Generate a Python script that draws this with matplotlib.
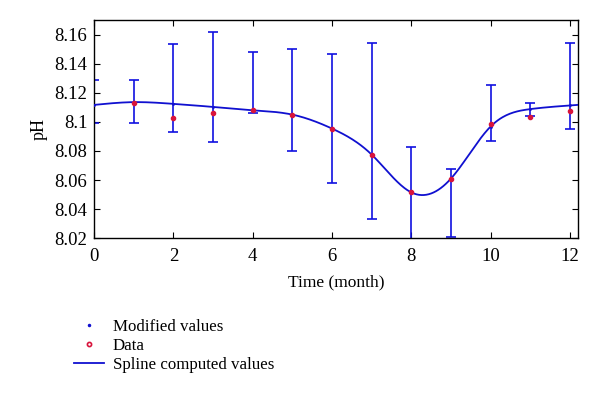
import numpy as np
import matplotlib
matplotlib.use('Agg')
import matplotlib.pyplot as plt
from matplotlib.lines import Line2D

plt.rcParams['font.family'] = ['Liberation Serif', 'DejaVu Serif']

# months
months = [0, 1, 2, 3, 4, 5, 6, 7, 8, 9, 10, 11, 12]
# values on the spline (modified values) at each month
modified = [8.1117, 8.1136, 8.1124, 8.1103, 8.1080, 8.1050, 8.0954,
            8.0775, 8.0515, 8.0610, 8.0968, 8.1088, 8.1113]
# measured data
data_months = [1, 2, 3, 4, 5, 6, 7, 8, 9, 10, 11, 12]
data_ph = [8.1133, 8.1026, 8.1060, 8.1080, 8.1050, 8.0954,
           8.0775, 8.0517, 8.0610, 8.0987, 8.1035, 8.1078]
# error bar ends
err_low = [8.0995, 8.0995, 8.0933, 8.0864, 8.1058, 8.0802, 8.0581,
           8.0329, 8.0180, 8.0209, 8.0871, 8.1042, 8.0952]
err_high = [8.1288, 8.1288, 8.1536, 8.1616, 8.1478, 8.1504, 8.1470,
            8.1540, 8.0828, 8.0676, 8.1253, 8.1127, 8.1540]


def natural_spline(x, y, xs):
    # natural cubic spline through (x, y), evaluated at xs
    x = np.asarray(x, float)
    y = np.asarray(y, float)
    n = len(x)
    h = np.diff(x)
    A = np.zeros((n, n))
    b = np.zeros(n)
    A[0, 0] = 1
    A[-1, -1] = 1
    for i in range(1, n - 1):
        A[i, i - 1] = h[i - 1]
        A[i, i] = 2 * (h[i - 1] + h[i])
        A[i, i + 1] = h[i]
        b[i] = 3 * ((y[i + 1] - y[i]) / h[i] - (y[i] - y[i - 1]) / h[i - 1])
    c = np.linalg.solve(A, b)
    bb = (np.diff(y) / h) - h * (2 * c[:-1] + c[1:]) / 3
    d = np.diff(c) / (3 * h)
    idx = np.clip(np.searchsorted(x, xs) - 1, 0, n - 2)
    dx = xs - x[idx]
    return y[idx] + bb[idx] * dx + c[idx] * dx ** 2 + d[idx] * dx ** 3


xs = np.linspace(0, 12.2, 400)
ys = natural_spline(months, modified, xs)

mid = (np.array(err_low) + np.array(err_high)) / 2
half = (np.array(err_high) - np.array(err_low)) / 2

fig = plt.figure(figsize=(6, 3.95), dpi=100)
ax = fig.add_axes([0.157, 0.397, 0.806, 0.552])

ax.errorbar(months, mid, yerr=half, fmt='none', ecolor='#1010e0',
            elinewidth=1.2, capsize=3.7, capthick=1.2, zorder=2)
ax.plot(xs, ys, color='#1010d0', lw=1.3, zorder=3)
ax.plot(months, modified, '.', color='#1010d0', ms=2, zorder=4)
ax.plot(data_months, data_ph, 'o', color='#d8143c', ms=3, zorder=5)

ax.set_xlim(0, 12.2)
ax.set_ylim(8.02, 8.17)
ax.set_xticks([0, 2, 4, 6, 8, 10, 12])
ax.set_yticks([8.02, 8.04, 8.06, 8.08, 8.1, 8.12, 8.14, 8.16])
ax.set_yticklabels(['8.02', '8.04', '8.06', '8.08', '8.1', '8.12', '8.14', '8.16'])
ax.tick_params(direction='in', top=True, right=True, length=4, labelsize=13.5)
ax.tick_params(axis='x', pad=7)
ax.tick_params(axis='y', pad=5)
for s in ax.spines.values():
    s.set_linewidth(1)
ax.set_xlabel('Time (month)', fontsize=12.5, labelpad=7)
ax.set_ylabel('pH', fontsize=13, labelpad=5)

handles = [
    Line2D([], [], ls='none', marker='.', color='#1010d0', ms=3),
    Line2D([], [], ls='none', marker='o', mfc='none', mec='#d8143c', ms=3, mew=1.2),
    Line2D([], [], color='#1010d0', lw=1.3),
]
fig.legend(handles, ['Modified values', 'Data', 'Spline computed values'],
           loc='upper left', bbox_to_anchor=(0.11, 0.215), frameon=False,
           fontsize=12.2, handlelength=1.75, handletextpad=0.5, labelspacing=0.2,
           borderpad=0)

plt.savefig('out.png', dpi=100)
